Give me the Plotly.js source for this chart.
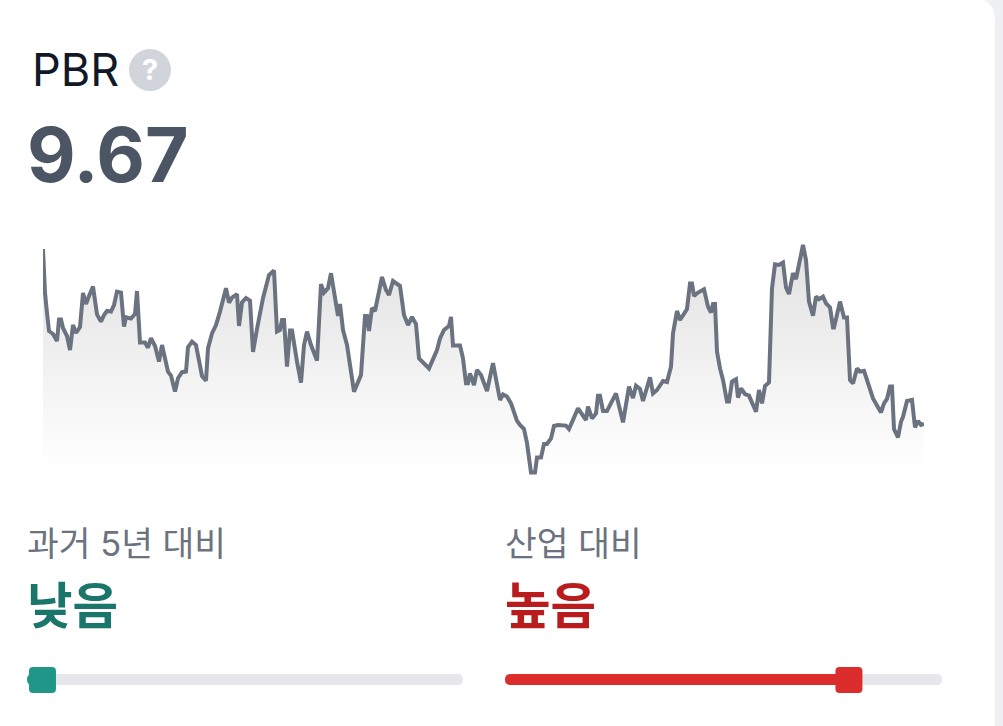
<!DOCTYPE html>
<html><head><meta charset="utf-8">
<script src="https://cdn.plot.ly/plotly-3.0.1.min.js"></script>
<style>html,body{margin:0;padding:0;background:#fff;overflow:hidden}#c{width:1003px;height:726px}</style>
</head><body><div id="c"></div>
<script>
const sessionIndex=[0,2,4,6,10,14,16,18,20,24,27,30,33,37,40,43,46,50,54,58,61,64,68,71,74,78,81,83,88,92,94,97,102,105,108,112,116,119,125,128,132,135,139,143,145,149,153,159,163,165,169,173,177,183,186,189,194,196,199,203,207,210,214,220,226,231,234,237,239,241,244,247,249,251,254,258,261,264,268,274,278,281,285,288,295,297,300,304,308,311,318,321,322,324,326,329,332,339,343,346,350,357,361,365,369,373,376,386,394,397,401,406,408,410,417,420,423,425,427,431,434,438,444,450,457,460,464,468,474,477,481,484,488,492,494,498,501,504,508,511,515,523,526,535,543,545,549,553,555,557,560,564,573,580,586,590,593,597,600,607,610,614,618,620,624,628,630,634,637,644,647,649,651,655,661,665,668,670,672,674,677,680,684,686,689,693,695,698,702,706,713,716,719,722,726,729,732,736,740,743,746,750,753,760,763,766,770,773,776,780,783,787,790,791,797,801,804,807,810,814,817,821,830,838,841,844,847,849,851,855,858,860,864,869,872,875,878,881];
const pbrValues=[18.42,16.22,15.22,14.32,14.17,13.82,14.90,14.90,14.47,14.07,13.37,14.62,14.22,14.52,16.22,15.67,16.07,16.54,15.15,14.79,15.12,15.32,15.29,15.62,16.29,16.24,14.54,15.01,14.94,15.17,16.32,13.74,13.74,13.49,13.96,13.57,12.79,13.62,12.29,12.09,11.29,11.96,12.26,12.29,13.51,13.79,13.62,12.07,11.84,13.45,14.20,14.62,15.29,16.46,15.74,15.99,16.17,14.57,15.75,15.97,15.84,13.27,14.42,15.96,17.12,17.34,14.29,14.37,14.87,14.87,12.54,14.34,14.34,13.62,12.79,11.74,13.62,14.29,13.62,12.84,16.66,16.24,16.46,17.21,15.07,15.67,14.37,13.62,12.20,11.29,12.12,14.37,15.07,15.07,14.32,15.47,15.32,17.02,16.37,16.12,16.82,16.57,15.12,14.62,15.02,14.67,12.95,12.45,13.37,13.95,14.37,14.57,15.02,13.59,13.59,12.95,11.71,11.71,12.20,11.62,12.37,12.12,11.32,12.71,10.87,11.15,11.04,10.70,9.83,9.62,9.42,8.71,7.24,7.24,7.99,7.99,8.67,8.67,8.95,9.57,9.62,9.59,9.42,10.45,9.87,10.54,9.95,10.20,11.08,11.08,10.32,10.32,11.20,9.75,11.54,10.97,11.58,11.42,10.82,12.00,11.20,11.37,11.74,11.82,11.77,12.54,14.20,15.32,14.87,15.42,16.70,16.70,16.07,16.24,16.41,15.54,15.24,15.67,15.67,13.29,12.45,11.87,10.79,10.79,11.79,11.91,10.99,11.45,11.17,11.09,10.29,11.37,10.70,11.57,11.75,16.46,17.65,17.62,17.74,16.50,16.17,17.21,16.92,18.62,17.87,15.79,15.09,16.04,15.91,16.04,15.70,15.50,14.50,14.50,15.79,15.00,15.00,11.87,11.70,12.45,12.29,12.33,10.95,10.25,10.70,10.92,11.54,11.54,9.42,9.00,9.78,10.03,10.82,10.87,9.50,9.83,9.62,9.67];
const metricName="PBR", metricValue="9.67", helpGlyph="?";
const historyLabel="과거 5년 대비", historyRating="낮음", historyPercent=3.55;
const industryLabel="산업 대비", industryRating="높음", industryPercent=78.7;

const W=1003,H=726;
const X=p=>p/W, Y=p=>1-p/H;
const rr=(x0,y0,x1,y1,r)=>`M${X(x0+r)},${Y(y0)}L${X(x1-r)},${Y(y0)}Q${X(x1)},${Y(y0)} ${X(x1)},${Y(y0+r)}L${X(x1)},${Y(y1-r)}Q${X(x1)},${Y(y1)} ${X(x1-r)},${Y(y1)}L${X(x0+r)},${Y(y1)}Q${X(x0)},${Y(y1)} ${X(x0)},${Y(y1-r)}L${X(x0)},${Y(y0+r)}Q${X(x0)},${Y(y0)} ${X(x0+r)},${Y(y0)}Z`;
const box=(path,fill)=>({type:'path',xref:'paper',yref:'paper',path,fillcolor:fill,line:{width:0},layer:'above'});
const txt=(text,x,y,size,color,weight,anchor)=>({text,xref:'paper',yref:'paper',x:X(x),y:Y(y),xanchor:anchor||'left',yanchor:'middle',showarrow:false,font:{family:'Inter, "Noto Sans CJK KR", sans-serif',size,color,weight:weight||400},borderpad:0,borderwidth:0});
const slider=(l,r,top,bot,pct,fill)=>{const c=l+(r-l)*pct/100;return [
  box(rr(l,top,r,bot,5.5),'#e5e7eb'),
  box(rr(l,top,c,bot,5.5),fill),
  box(rr(c-13.5,top-7,c+13.5,bot+8,4),fill)];};

const trace={x:sessionIndex,y:pbrValues,mode:'lines',type:'scatter',hoverinfo:'skip',
  line:{color:'#6b7280',width:4,shape:'linear'},fill:'tozeroy',
  fillgradient:{type:'vertical',start:18.6,stop:7.4,colorscale:[[0,'rgba(225,225,225,1)'],[0.3,'rgba(234,234,234,1)'],[1,'rgba(255,255,255,1)']]}};
const layout={width:W,height:H,margin:{l:0,r:0,t:0,b:0},paper_bgcolor:'#fff',plot_bgcolor:'rgba(0,0,0,0)',showlegend:false,
  xaxis:{domain:[X(43),X(924)],range:[0,881],visible:false,fixedrange:true},
  yaxis:{domain:[Y(480),Y(240)],range:[6.87,18.87],visible:false,fixedrange:true},
  shapes:[
    box(`M${X(983)},${Y(0)}Q${X(995)},${Y(4)} ${X(995)},${Y(22)}L${X(995)},${Y(726)}L${X(1003)},${Y(726)}L${X(1003)},${Y(0)}Z`,'#eff0f3'),
    {type:'circle',xref:'paper',yref:'paper',x0:X(129),x1:X(171),y0:Y(91),y1:Y(49),fillcolor:'#d1d5db',line:{width:0},layer:'below'},
    ...slider(27,463,674,685,historyPercent,'#1f9687'),
    ...slider(505,942,674,685,industryPercent,'#dc2d2d')
  ],
  annotations:[
    txt(metricName,32,70,45,'#111827',400),
    txt(helpGlyph,150,70,29,'#ffffff',700,'center'),
    txt(metricValue,27,154,75,'#4b5563',700),
    txt(historyLabel,27,543,34.5,'#6b7280',400),
    txt(historyRating,27,606,49.5,'#1a756b',700),
    txt(industryLabel,505,543,34.5,'#6b7280',400),
    txt(industryRating,505,606,49.5,'#b91c1c',700)
  ]};
Plotly.newPlot('c',[trace],layout,{displayModeBar:false,staticPlot:true});
</script></body></html>
